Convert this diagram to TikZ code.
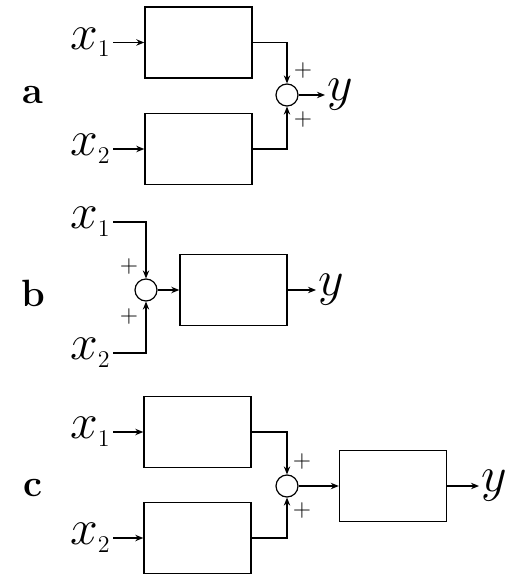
\documentclass[tikz,border=0pt]{standalone}
\usepackage{tikz}
\usetikzlibrary{positioning,arrows.meta}

\begin{document}
\begin{tikzpicture}[x=0.5pt, y=-0.5pt,
    blk/.style={rectangle, draw=black, line width=0.7pt, minimum width=53.5pt,
                minimum height=35.5pt, inner sep=0pt},
    sum/.style={circle, draw=black, line width=0.6pt, minimum size=11pt, inner sep=0pt},
    var/.style={inner sep=1pt, font=\fontsize{26}{26}\selectfont},
    pl/.style={inner sep=0pt, font=\large},
    tag/.style={inner sep=0pt, font=\fontsize{19}{19}\selectfont\bfseries},
    a/.style={-{Stealth[length=4pt, width=3.2pt]}, line width=0.6pt}
]
    \useasboundingbox (0,0) rectangle (504,576);

    % (a) two blocks in parallel
    \node[tag] (ta) at (33,95) {a};
    \node[blk] (a1) at (198.5,42.5) {};
    \node[blk] (a2) at (198.5,149) {};
    \node[sum] (as) at (287,95) {};
    \node[var, anchor=east] (ax1) at (113,42.5) {$x_{\scriptscriptstyle 1}$};
    \node[var, anchor=east] (ax2) at (113,149) {$x_{\scriptscriptstyle 2}$};
    \node[var, anchor=west] (ay) at (325,95) {$y$};
    \node[pl] (ap1) at (303,71) {$+$};
    \node[pl] (ap2) at (303,120) {$+$};
    \draw[a] (ax1) -- (a1);
    \draw[a] (ax2) -- (a2);
    \draw[a] (a1.east) -| (as.north);
    \draw[a] (a2.east) -| (as.south);
    \draw[a] (as) -- (ay);

    % (b) sum first, then one block
    \node[tag] (tb) at (33,293) {b};
    \node[sum] (bs) at (146,290) {};
    \node[blk] (b1) at (233.5,290) {};
    \node[var, anchor=east] (bx1) at (113,222) {$x_{\scriptscriptstyle 1}$};
    \node[var, anchor=east] (bx2) at (113,353) {$x_{\scriptscriptstyle 2}$};
    \node[var, anchor=west] (by) at (316,290) {$y$};
    \node[pl] (bp1) at (129,266) {$+$};
    \node[pl] (bp2) at (129,316) {$+$};
    \draw[a] (bx1) -| (bs.north);
    \draw[a] (bx2) -| (bs.south);
    \draw[a] (bs) -- (b1);
    \draw[a] (b1) -- (by);

    % (c) parallel blocks, sum, then a block in series
    \node[tag] (tc) at (33,488) {c};
    \node[blk] (c1) at (197.5,432) {};
    \node[blk] (c2) at (197.5,538) {};
    \node[sum] (cs) at (287,486) {};
    \node[blk] (c3) at (393,486) {};
    \node[var, anchor=east] (cx1) at (113,432) {$x_{\scriptscriptstyle 1}$};
    \node[var, anchor=east] (cx2) at (113,538) {$x_{\scriptscriptstyle 2}$};
    \node[var, anchor=west] (cy) at (479,486) {$y$};
    \node[pl] (cp1) at (302,461) {$+$};
    \node[pl] (cp2) at (302,510) {$+$};
    \draw[a] (cx1) -- (c1);
    \draw[a] (cx2) -- (c2);
    \draw[a] (c1.east) -| (cs.north);
    \draw[a] (c2.east) -| (cs.south);
    \draw[a] (cs) -- (c3);
    \draw[a] (c3) -- (cy);
\end{tikzpicture}
\end{document}
